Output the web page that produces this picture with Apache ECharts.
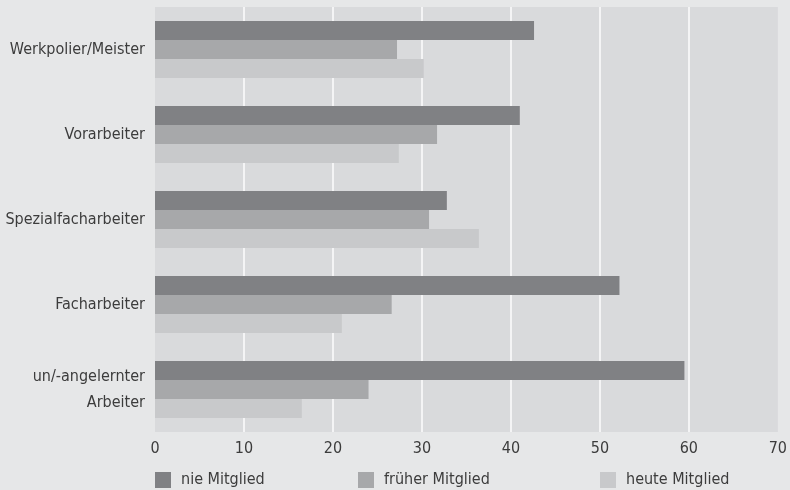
<!DOCTYPE html>
<html><head><meta charset="utf-8">
<script src="https://cdn.jsdelivr.net/npm/echarts@6/dist/echarts.min.js"></script>
<style>html,body{margin:0;padding:0;background:#e6e7e8;}#c{width:790px;height:490px;}</style>
</head><body><div id="c"></div>
<script>
var categories = ['Werkpolier/Meister', 'Vorarbeiter', 'Spezialfacharbeiter', 'Facharbeiter', 'un/-angelernter\nArbeiter'];
var seriesNames = ['nie Mitglied', 'früher Mitglied', 'heute Mitglied'];
var nieMitglied = [42.6, 41.0, 32.8, 52.2, 59.5];
var frueherMitglied = [27.2, 31.7, 30.8, 26.6, 24.0];
var heuteMitglied = [30.2, 27.4, 36.4, 21.0, 16.5];
var xTicks = [0, 10, 20, 30, 40, 50, 60, 70];

var FONT = '"DejaVu Sans Condensed", "DejaVu Sans", sans-serif';
var TXT = '#3c3c3c';
var colors = ['#808184', '#a7a8aa', '#c8c9cb'];
var chart = echarts.init(document.getElementById('c'), null, {renderer: 'canvas'});
var legendLefts = [155, 358, 600];
chart.setOption({
  backgroundColor: '#e6e7e8',
  animation: false,
  color: colors,
  grid: {left: 155, right: 12, top: 7, bottom: 58, show: true, backgroundColor: '#d9dadc', borderWidth: 0},
  legend: seriesNames.map(function (n, i) {
    return {
      data: [n], left: legendLefts[i], top: 472, padding: 0, icon: 'rect', itemWidth: 16, itemHeight: 16,
      textStyle: {fontFamily: FONT, fontSize: 16, color: TXT, padding: [0, 0, 0, 5]},
      selectedMode: false
    };
  }),
  xAxis: {
    type: 'value', min: xTicks[0], max: xTicks[xTicks.length - 1], interval: 10,
    axisLine: {show: false}, axisTick: {show: false},
    splitLine: {show: true, showMinLine: false, showMaxLine: false, lineStyle: {color: '#f4f4f5', width: 2}},
    axisLabel: {fontFamily: FONT, fontSize: 16, color: TXT, margin: 9}
  },
  yAxis: {
    type: 'category', data: categories, inverse: true,
    axisLine: {show: false}, axisTick: {show: false},
    axisLabel: {fontFamily: FONT, fontSize: 16, color: TXT, margin: 10, lineHeight: 26, align: 'right', padding: [4, 0, 0, 0]}
  },
  series: [
    {name: seriesNames[0], type: 'bar', data: nieMitglied, barCategoryGap: '33%', barGap: '0%'},
    {name: seriesNames[1], type: 'bar', data: frueherMitglied, barCategoryGap: '33%', barGap: '0%'},
    {name: seriesNames[2], type: 'bar', data: heuteMitglied, barCategoryGap: '33%', barGap: '0%'}
  ]
});
</script></body></html>
